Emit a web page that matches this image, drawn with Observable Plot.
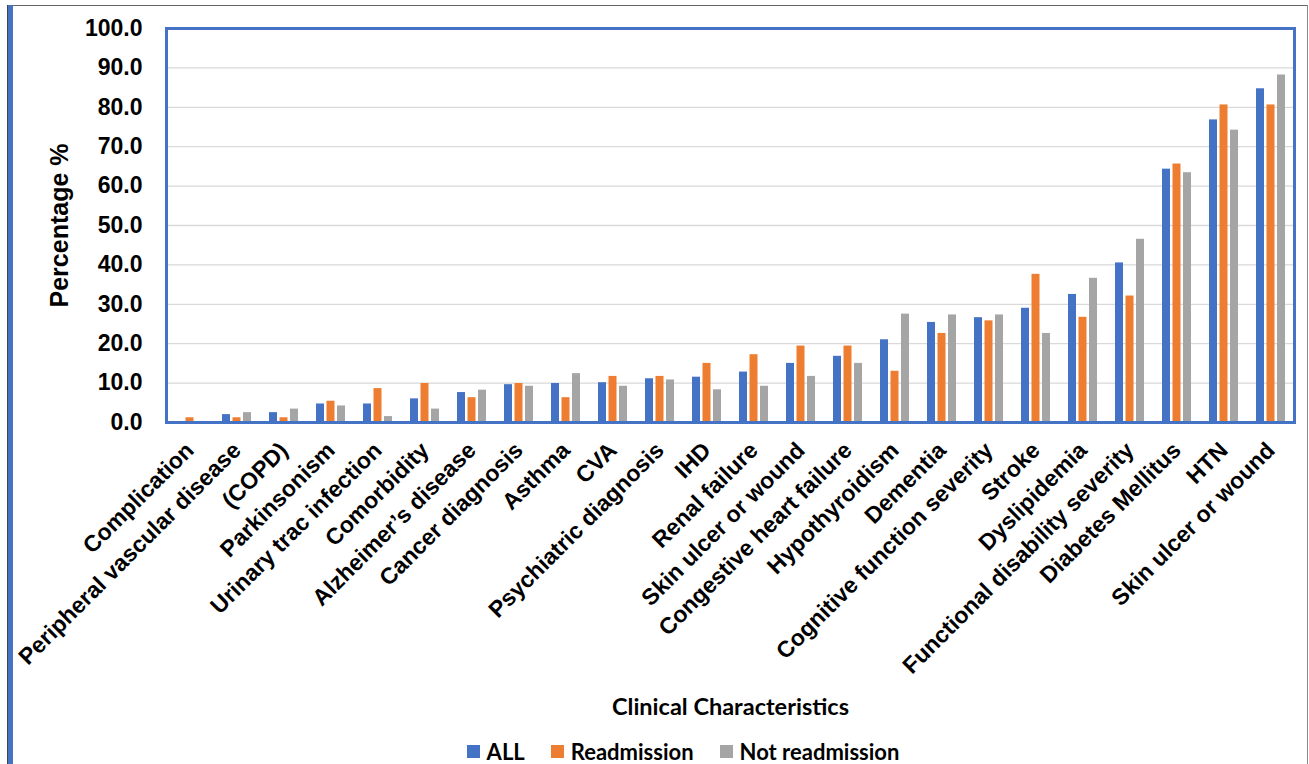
<!DOCTYPE html>
<html>
<head>
<meta charset="utf-8">
<script src="https://cdn.jsdelivr.net/npm/d3@7"></script>
<script src="https://cdn.jsdelivr.net/npm/@observablehq/plot@0.6"></script>
<style>
  html, body { margin: 0; padding: 0; background: #fff; }
  #wrap { position: relative; width: 1309px; height: 764px; overflow: hidden; }
  .deco { position: absolute; pointer-events: none; }
  #chart { position: absolute; left: 0; top: 0; }
  #legend { position: absolute; left: 0; top: 737px; width: 1309px; height: 28px;
    display: flex; justify-content: center; align-items: center; gap: 26px;
    font-family: Lato, "Open Sans", sans-serif; font-weight: bold; font-size: 22px; color: #000; padding-left: 57px; box-sizing: border-box; }
  .item { display: flex; align-items: center; gap: 7px; }
  .sw { width: 13px; height: 13px; display: inline-block; }
</style>
</head>
<body>
<div id="wrap">
  <div class="deco" style="left:7px;top:5px;width:1300px;height:1px;background:#666;"></div>
  <div class="deco" style="left:7px;top:5px;width:1px;height:760px;background:#444;"></div>
  <div class="deco" style="left:8px;top:5px;width:5px;height:760px;background:#4472c4;"></div>
  <div class="deco" style="left:1307px;top:5px;width:1px;height:760px;background:#888;"></div>
  <div id="chart"></div>
  <div id="legend"></div>
</div>
<script>
const categories = ["Complication","Peripheral vascular disease","(COPD)","Parkinsonism","Urinary trac infection","Comorbidity","Alzheimer’s disease","Cancer diagnosis","Asthma","CVA","Psychiatric diagnosis","IHD","Renal failure","Skin ulcer or wound","Congestive heart failure","Hypothyroidism","Dementia","Cognitive function severity","Stroke","Dyslipidemia","Functional disability severity","Diabetes Mellitus","HTN","Skin ulcer or wound"];
const allValues = [0, 2.0, 2.5, 4.7, 4.7, 6.0, 7.6, 9.6, 9.9, 10.1, 11.1, 11.5, 12.8, 15.0, 16.8, 21.0, 25.4, 26.6, 29.0, 32.5, 40.5, 64.3, 76.8, 84.7];
const readmissionValues = [1.2, 1.2, 1.2, 5.4, 8.6, 9.9, 6.3, 9.9, 6.3, 11.7, 11.7, 15.0, 17.2, 19.4, 19.4, 13.0, 22.6, 25.8, 37.6, 26.7, 32.1, 65.6, 80.6, 80.6];
const notReadmissionValues = [0, 2.5, 3.4, 4.2, 1.5, 3.4, 8.2, 9.2, 12.4, 9.2, 10.8, 8.3, 9.2, 11.7, 15.0, 27.5, 27.3, 27.3, 22.6, 36.6, 46.5, 63.4, 74.2, 88.2];
const seriesNames = ["ALL", "Readmission", "Not readmission"];
const seriesColors = ["#4472c4", "#ed7d31", "#a5a5a5"];
const yTicks = [0, 10, 20, 30, 40, 50, 60, 70, 80, 90, 100];

const rows = categories.map((c, i) => ({i, all: allValues[i], readm: readmissionValues[i], notr: notReadmissionValues[i]}));
const idx = categories.map((c, i) => i);

const W = 1309, H = 736;
const barInset = 19.5;
const step = 10.5;

const chart = Plot.plot({
  width: W,
  height: H,
  marginLeft: 166,
  marginRight: 15,
  marginTop: 28,
  marginBottom: H - 422,
  style: {background: "transparent", fontFamily: "'Liberation Sans', Arial, sans-serif"},
  x: {type: "band", domain: idx, paddingInner: 0, paddingOuter: 0},
  y: {domain: [0, 100]},
  marks: [
    Plot.gridY(yTicks.slice(1), {stroke: "#d9d9d9", strokeOpacity: 1, strokeWidth: 1.3}),
    Plot.barY(rows, {x: "i", y: "all", fill: seriesColors[0], insetLeft: barInset, insetRight: barInset, dx: -step}),
    Plot.barY(rows, {x: "i", y: "readm", fill: seriesColors[1], insetLeft: barInset, insetRight: barInset}),
    Plot.barY(rows, {x: "i", y: "notr", fill: seriesColors[2], insetLeft: barInset, insetRight: barInset, dx: step}),
    Plot.frame({stroke: "#4472c4", strokeWidth: 3}),
    Plot.axisY({ticks: yTicks, tickFormat: d => d.toFixed(1), tickSize: 0, tickPadding: 24, fontSize: 23, fontWeight: "bold", label: null, fill: "#000"}),
    Plot.axisX({tickRotate: -45, tickFormat: i => categories[i], tickSize: 0, tickPadding: 24, fontSize: 23, fontWeight: "bold", label: null, textAnchor: "end", fill: "#000"}),
    Plot.text(["Percentage %"], {frameAnchor: "left", dx: -107, rotate: -90, textAnchor: "middle", fontSize: 25, fontWeight: "bold", fill: "#000"}),
    Plot.text(["Clinical Characteristics"], {frameAnchor: "bottom", dy: 292, textAnchor: "middle", fontSize: 23.5, fontWeight: "bold", fontFamily: "Lato, 'Open Sans', sans-serif", fill: "#000"})
  ]
});
document.getElementById("chart").appendChild(chart);

const legend = document.getElementById("legend");
seriesNames.forEach((name, k) => {
  const item = document.createElement("span");
  item.className = "item";
  const sw = document.createElement("span");
  sw.className = "sw";
  sw.style.background = seriesColors[k];
  const t = document.createElement("span");
  t.textContent = name;
  item.appendChild(sw);
  item.appendChild(t);
  legend.appendChild(item);
});
</script>
</body>
</html>
